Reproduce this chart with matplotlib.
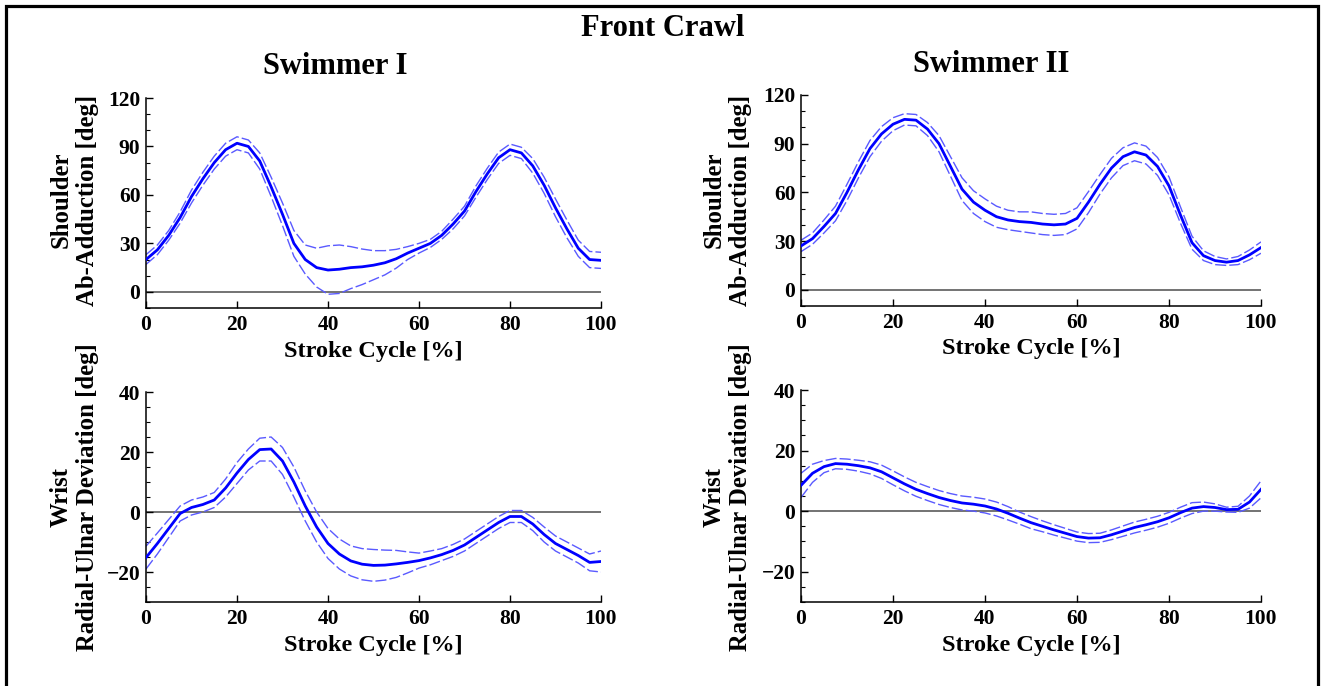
import matplotlib
matplotlib.use("Agg")
import matplotlib.pyplot as plt
from matplotlib.patches import Rectangle
from matplotlib.ticker import MultipleLocator
import numpy as np

plt.rcParams['font.family'] = ['Liberation Serif', 'DejaVu Serif']
plt.rcParams['font.weight'] = 'bold'

# stroke cycle sampled every 2.5 %
pct = np.arange(0, 100.1, 2.5)

# shoulder ab-adduction, swimmer I
sh1_mean = [20, 26, 35, 46, 59, 70, 80, 88, 92, 90, 81, 65, 48, 30, 20, 15, 13.5, 14, 15,
            15.5, 16.5, 18, 20.5, 24, 27, 30, 35, 42, 50, 62, 73, 83, 88, 86, 78, 66, 52,
            39, 27, 20, 19.5]
sh1_sd = [3, 3, 3, 3.5, 4, 4, 4, 4, 4, 4, 5, 6, 7, 8, 9, 12, 15, 15, 13, 11, 9, 7.5, 5.8,
          4, 3, 2.5, 2.5, 3, 3, 3.5, 3.5, 3.5, 3.5, 3.5, 4.5, 5, 5.5, 5.5, 5, 5, 5]

# shoulder ab-adduction, swimmer II
sh2_mean = [27, 31.5, 39, 47, 60, 74, 87, 96, 102, 105, 104.5, 99, 90, 76, 62, 54, 49, 45,
            43, 42, 41.5, 40.5, 40, 40.5, 44, 54, 65, 75, 82, 85, 83, 76, 64, 46, 29, 21,
            18, 17, 18, 21.5, 26]
sh2_sd = [3.5, 3.5, 4, 4.5, 5, 5, 5, 4.5, 4, 3.5, 3.5, 4, 5, 6, 7, 7, 7, 6.5, 6, 6, 6.5,
          6.5, 6.5, 6.5, 6.5, 6.5, 6, 6, 5.5, 5.5, 5.5, 5.5, 5.5, 5, 4, 3, 2.5, 2, 2.5, 3,
          3.5]

# wrist radial-ulnar deviation, swimmer I
wr1_mean = [-15.2, -10.5, -5.5, -0.5, 1.5, 2.5, 4, 8, 13, 17.5, 20.8, 21, 17, 10, 2, -5,
            -10.5, -14, -16.3, -17.4, -17.8, -17.7, -17.3, -16.8, -16.2, -15.3, -14.2,
            -12.8, -11, -8.5, -6, -3.5, -1.5, -1.5, -4, -7.5, -10.5, -12.5, -14.5, -16.8,
            -16.5]
wr1_sd = [3.8, 3.5, 3, 2.5, 2.5, 2.5, 2.5, 3, 3.5, 3.5, 3.8, 4, 4.5, 5, 5, 5, 5, 5, 5,
          5.2, 5.3, 5, 4.5, 3.5, 2.5, 2.3, 2, 2, 2, 2, 2, 2, 2, 2, 2.2, 2.5, 2.5, 2.5, 2.5,
          2.8, 3.5]

# wrist radial-ulnar deviation, swimmer II
wr2_mean = [8.5, 12.5, 14.7, 15.7, 15.5, 15, 14.3, 13, 11, 9, 7.2, 5.8, 4.5, 3.5, 2.7,
            2.3, 1.7, 0.7, -0.7, -2.3, -3.8, -5, -6.2, -7.3, -8.4, -8.9, -8.8, -7.8, -6.6,
            -5.4, -4.5, -3.5, -2.2, -0.5, 1, 1.5, 1.2, 0.5, 0.6, 3, 7.2]
wr2_sd = [4, 3, 2, 1.7, 1.7, 1.8, 2, 2.2, 2.3, 2.3, 2.3, 2.3, 2.3, 2.3, 2.3, 2.3, 2.3, 2.3,
          2.2, 2, 2, 1.8, 1.7, 1.6, 1.5, 1.5, 1.5, 1.6, 1.7, 1.8, 1.8, 1.8, 1.8, 1.8, 1.8,
          1.5, 1.2, 0.8, 1, 2, 2.8]

x_ticks = [0, 20, 40, 60, 80, 100]
shoulder_label = 'Shoulder\nAb-Adduction [deg]'
wrist_label = 'Wrist\nRadial-Ulnar Deviation [deg]'
x_label = 'Stroke Cycle [%]'

W, H = 1321, 686
fig = plt.figure(figsize=(W / 100, H / 100), dpi=100)


def px_axes(left, top, right, bottom):
    return fig.add_axes([left / W, 1 - bottom / H, (right - left) / W, (bottom - top) / H])


def draw_panel(ax, mean, sd, ylim, major, minor):
    mean = np.array(mean)
    sd = np.array(sd)
    ax.axhline(0, color='#4d4d4d', lw=1.1, zorder=1)
    for band in (mean + sd, mean - sd):
        ax.plot(pct, band, color='#5a5aff', lw=1.0, dashes=(8, 2.2), zorder=2)
    ax.plot(pct, mean, color='#0000ff', lw=2.0, solid_joinstyle='round', zorder=3)

    ax.set_xlim(0, 100)
    ax.set_ylim(*ylim)
    ax.set_xticks(x_ticks)
    ax.yaxis.set_major_locator(MultipleLocator(major))
    ax.yaxis.set_minor_locator(MultipleLocator(minor))
    ax.spines['top'].set_visible(False)
    ax.spines['right'].set_visible(False)
    for s in ('left', 'bottom'):
        ax.spines[s].set_linewidth(1.1)
    ax.tick_params(direction='in', length=5, width=1, labelsize=15.5, pad=5)
    ax.tick_params(which='minor', direction='in', length=3, width=0.8)
    ax.tick_params(axis='y', pad=4)
    for lab in ax.get_xticklabels() + ax.get_yticklabels():
        lab.set_fontweight('bold')
    ax.set_xlabel(x_label, fontsize=17.5, fontweight='bold', labelpad=4)


ax_tl = px_axes(146, 98, 601, 308)
ax_tr = px_axes(801, 95, 1261, 306)
ax_bl = px_axes(146, 392, 601, 602)
ax_br = px_axes(801, 390, 1261, 602)

draw_panel(ax_tl, sh1_mean, sh1_sd, (-10, 120), 30, 10)
draw_panel(ax_tr, sh2_mean, sh2_sd, (-10, 120), 30, 10)
draw_panel(ax_bl, wr1_mean, wr1_sd, (-30, 40), 20, 5)
draw_panel(ax_br, wr2_mean, wr2_sd, (-30, 40), 20, 5)

# two-line y labels
for cx, cy, txt in [(74, 200, shoulder_label), (727, 200, shoulder_label),
                    (74, 497, wrist_label), (727, 497, wrist_label)]:
    fig.text(cx / W, 1 - cy / H, txt, rotation=90, ha='center', va='center',
             multialignment='center', fontsize=17.8, fontweight='bold', linespacing=1.2)

fig.text(663 / W, 1 - 28 / H, 'Front Crawl', ha='center', va='center',
         fontsize=22, fontweight='bold')
fig.text(335 / W, 1 - 66 / H, 'Swimmer I', ha='center', va='center',
         fontsize=22, fontweight='bold')
fig.text(991 / W, 1 - 64 / H, 'Swimmer II', ha='center', va='center',
         fontsize=22, fontweight='bold')

# frame around the whole figure
fig.patches.append(Rectangle((5.5 / W, -0.02), (1318 - 5.5) / W, 1.02 - 6 / H,
                             transform=fig.transFigure, fill=False, lw=2.3,
                             edgecolor='black', clip_on=False))

fig.savefig('out.png', dpi=100)
